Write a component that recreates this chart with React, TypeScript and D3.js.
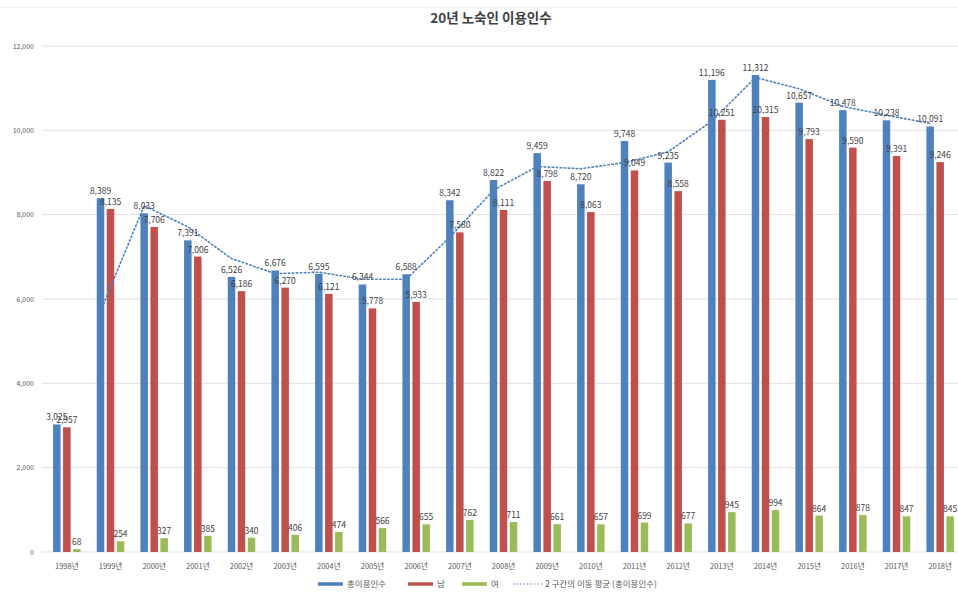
import React from "react";
import * as d3 from "d3";

const years = ["1998년","1999년","2000년","2001년","2002년","2003년","2004년","2005년","2006년","2007년","2008년","2009년","2010년","2011년","2012년","2013년","2014년","2015년","2016년","2017년","2018년"];
const total = [3025, 8389, 8033, 7391, 6526, 6676, 6595, 6344, 6588, 8342, 8822, 9459, 8720, 9748, 9235, 11196, 11312, 10657, 10478, 10238, 10091];
const male = [2957, 8135, 7706, 7006, 6186, 6270, 6121, 5778, 5933, 7580, 8111, 8798, 8063, 9049, 8558, 10251, 10315, 9793, 9590, 9391, 9246];
const female = [68, 254, 327, 385, 340, 406, 474, 566, 655, 762, 711, 661, 657, 699, 677, 945, 994, 864, 878, 847, 845];
const movingAvg: (number | null)[] = [null, 5707, 8211, 7712, 6959, 6601, 6636, 6470, 6466, 7465, 8582, 9141, 9090, 9234, 9492, 10216, 11254, 10985, 10568, 10358, 10165];
const yTicks = [0, 2000, 4000, 6000, 8000, 10000, 12000];

const seriesKeys = ["총이용인수", "남", "여"];
const seriesColors = ["#4f81bd", "#c0504d", "#9bbb59"];
const seriesData = [total, male, female];

const FONT = "'Noto Sans CJK KR', 'Noto Sans', sans-serif";

export default function App() {
  const W = 958, H = 593;
  const x = d3.scaleBand<string>().domain(years).range([45, 962]).paddingInner(0).paddingOuter(0);
  const y = d3.scaleLinear().domain([0, 12000]).range([552, 46]);
  const sub = d3.scaleBand<string>().domain(seriesKeys).range([-15, 15]).paddingInner(0.25).paddingOuter(0.125);
  const fmt = d3.format(",");
  const cx = (yr: string) => (x(yr) as number) + x.bandwidth() / 2;

  const maPoints = years
    .map((yr, i) => ({ yr, v: movingAvg[i] }))
    .filter((d) => d.v != null) as { yr: string; v: number }[];
  const line = d3
    .line<{ yr: string; v: number }>()
    .x((d) => cx(d.yr) + (sub("총이용인수") as number) + sub.bandwidth() / 2)
    .y((d) => y(d.v));

  const legend = [
    { label: "총이용인수", color: seriesColors[0], x0: 318, dotted: false },
    { label: "남", color: seriesColors[1], x0: 408, dotted: false },
    { label: "여", color: seriesColors[2], x0: 462, dotted: false },
    { label: "2 구간의 이동 평균 (총이용인수)", color: "#4f81bd", x0: 513, dotted: true },
  ];

  return (
    <div style={{ position: "absolute", left: 0, top: 0 }}>
      <svg width={W} height={H} style={{ display: "block", background: "#fff", fontFamily: FONT }}>
        <rect x={0} y={0} width={W} height={H} fill="#fff" />
        <line x1={0} x2={W} y1={7} y2={7} stroke="#ececec" strokeWidth={1} />
        <text x={491} y={23} textAnchor="middle" fontSize={13.5} fontWeight="bold" fill="#404040">
          20년 노숙인 이용인수
        </text>
        {yTicks.map((t) => (
          <g key={t}>
            <line x1={42} x2={W} y1={y(t)} y2={y(t)} stroke="#d9d9d9" strokeWidth={0.8} />
            <text x={34} y={y(t) + 2.5} textAnchor="end" fontSize={7} fill="#595959">
              {fmt(t)}
            </text>
          </g>
        ))}
        {years.map((yr) => (
          <text key={yr} x={cx(yr)} y={569} textAnchor="middle" fontSize={7.5} fill="#595959">
            {yr}
          </text>
        ))}
        {seriesKeys.map((k, si) =>
          years.map((yr, i) => {
            const v = seriesData[si][i];
            const bx = cx(yr) + (sub(k) as number);
            return (
              <rect key={k + yr} x={bx} y={y(v)} width={sub.bandwidth()} height={y(0) - y(v)} fill={seriesColors[si]} />
            );
          })
        )}
        <path d={line(maPoints) || ""} fill="none" stroke="#4f81bd" strokeWidth={1.6} strokeDasharray="1.5 2.5" strokeLinecap="round" />
        {seriesKeys.map((k, si) =>
          years.map((yr, i) => {
            const v = seriesData[si][i];
            const bx = cx(yr) + (sub(k) as number) + sub.bandwidth() / 2;
            return (
              <text key={"l" + k + yr} x={bx} y={y(v) - 4} textAnchor="middle" fontSize={8.5} fill="#404040">
                {fmt(v)}
              </text>
            );
          })
        )}
        {legend.map((l) => (
          <g key={l.label}>
            <line
              x1={l.x0}
              x2={l.x0 + (l.dotted ? 29 : 25)}
              y1={584}
              y2={584}
              stroke={l.color}
              strokeWidth={l.dotted ? 1.2 : 3.5}
              strokeDasharray={l.dotted ? "1.5 2" : undefined}
            />
            <text x={l.x0 + (l.dotted ? 32 : 29)} y={587} fontSize={8.5} fill="#595959">
              {l.label}
            </text>
          </g>
        ))}
      </svg>
    </div>
  );
}
